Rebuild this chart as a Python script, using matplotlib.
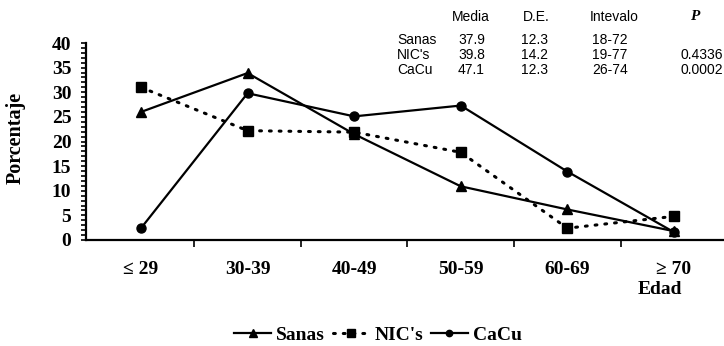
import matplotlib
matplotlib.use("Agg")
import matplotlib.pyplot as plt
from matplotlib.ticker import MultipleLocator, FixedLocator

# Age groups and percentages per group
edades = ["≤ 29", "30-39", "40-49", "50-59", "60-69", "≥ 70"]
sanas = [26.0, 33.9, 21.5, 10.9, 6.2, 1.8]
nics = [31.0, 22.2, 21.9, 17.8, 2.4, 4.8]
cacu = [2.4, 29.8, 25.1, 27.3, 13.9, 1.6]
y_ticks = [0, 5, 10, 15, 20, 25, 30, 35, 40]

# Summary table (mean, SD, range, p-value)
grupos = ["Sanas", "NIC's", "CaCu"]
medias = ["37.9", "39.8", "47.1"]
desv = ["12.3", "14.2", "12.3"]
intervalos = ["18-72", "19-77", "26-74"]
p_valores = ["", "0.4336", "0.0002"]

SERIF = ["Liberation Serif", "DejaVu Serif"]
SANS = ["Liberation Sans", "DejaVu Sans"]

W, H = 724, 346
fig = plt.figure(figsize=(W / 100, H / 100), dpi=100)
ax = fig.add_axes([86 / W, 1 - 240 / H, 638 / W, 197 / H])

x = list(range(len(edades)))
ax.plot(x, sanas, color="black", lw=1.6, marker="^", ms=7.5, label="Sanas", zorder=3)
ax.plot(x, nics, color="black", lw=2.2, ls=(0, (0.6, 2.6)), dash_capstyle="round",
        marker="s", ms=7.5, label="NIC's", zorder=3)
ax.plot(x, cacu, color="black", lw=1.6, marker="o", ms=6.5, label="CaCu", zorder=3)

ax.set_xlim(-0.516, 5.47)
ax.set_ylim(0, 40)

for s in ("top", "right"):
    ax.spines[s].set_visible(False)
ax.spines["left"].set_linewidth(1.6)
ax.spines["bottom"].set_linewidth(1.6)

ax.set_yticks(y_ticks)
ax.set_yticklabels([str(v) for v in y_ticks])
ax.yaxis.set_minor_locator(MultipleLocator(1))
ax.tick_params(axis="y", which="both", direction="out", length=3.5, width=1.2, pad=7)

# category labels centred, separator ticks between groups
ax.set_xticks(x)
ax.set_xticklabels(edades)
ax.tick_params(axis="x", which="major", length=0, pad=15)
ax.xaxis.set_minor_locator(FixedLocator([i + 0.5 for i in range(5)]))
ax.tick_params(axis="x", which="minor", direction="out", length=5, width=1.2)

for lbl in ax.get_xticklabels() + ax.get_yticklabels():
    lbl.set_fontfamily(SERIF)
    lbl.set_fontweight("bold")
    lbl.set_fontsize(14)

fig.text(16 / W, 1 - 138 / H, "Porcentaje", rotation=90, ha="center", va="center",
         fontfamily=SERIF, fontweight="bold", fontsize=14.5)
fig.text(660 / W, 1 - 290 / H, "Edad", ha="center", va="center",
         fontfamily=SERIF, fontweight="bold", fontsize=14)

# stats table in the upper right
fs = 10
fig.text(471 / W, 1 - 17 / H, "Media", ha="center", va="center", fontfamily=SANS, fontsize=fs)
fig.text(536 / W, 1 - 17 / H, "D.E.", ha="center", va="center", fontfamily=SANS, fontsize=fs)
fig.text(614 / W, 1 - 17 / H, "Intevalo", ha="center", va="center", fontfamily=SANS, fontsize=fs)
fig.text(695 / W, 1 - 17 / H, "P", ha="center", va="center", fontfamily=SERIF,
         fontstyle="italic", fontweight="bold", fontsize=fs + 1)
for i, g in enumerate(grupos):
    yy = 1 - (40 + 15 * i) / H
    fig.text(397 / W, yy, g, ha="left", va="center", fontfamily=SANS, fontsize=fs)
    fig.text(485 / W, yy, medias[i], ha="right", va="center", fontfamily=SANS, fontsize=fs)
    fig.text(548 / W, yy, desv[i], ha="right", va="center", fontfamily=SANS, fontsize=fs)
    fig.text(592 / W, yy, intervalos[i], ha="left", va="center", fontfamily=SANS, fontsize=fs)
    fig.text(723 / W, yy, p_valores[i], ha="right", va="center", fontfamily=SANS, fontsize=fs)

leg = fig.legend(loc="center", bbox_to_anchor=(378 / W, 1 - 335 / H), ncol=3, frameon=False,
                 handlelength=1.9, handletextpad=0.25, columnspacing=0.4, markerscale=0.7,
                 prop={"family": SERIF, "weight": "bold", "size": 14})

fig.savefig("out.png", dpi=100, facecolor="white")
